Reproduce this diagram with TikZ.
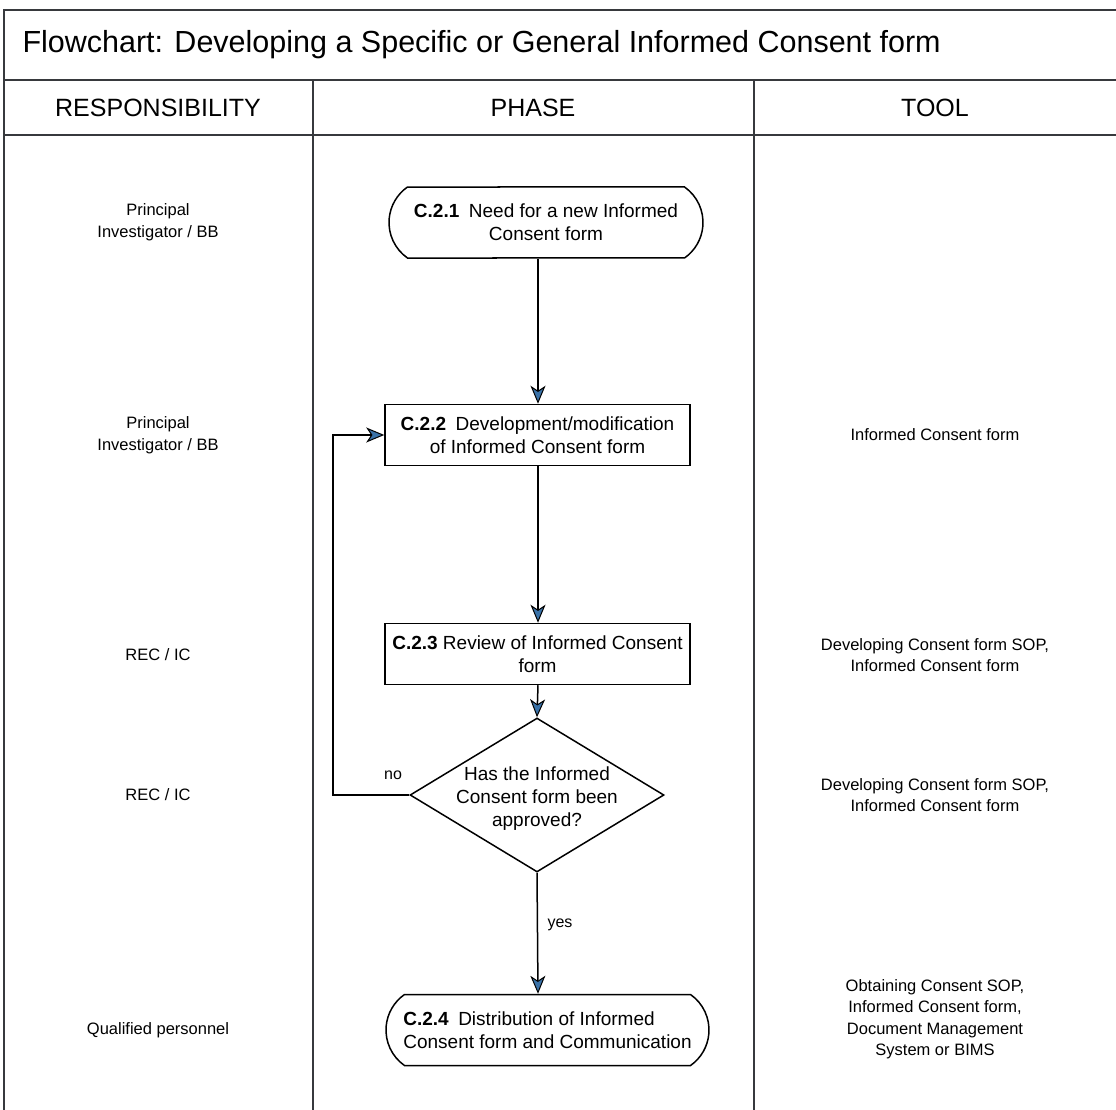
\documentclass[tikz,border=0pt]{standalone}
\usepackage{fontspec}
\setmainfont{Liberation Sans}
\usetikzlibrary{shapes.geometric,shapes.misc,arrows.meta}
\definecolor{tipblue}{RGB}{58,114,168}
\definecolor{framegray}{RGB}{55,57,61}
\begin{document}
\begin{tikzpicture}[x=1pt,y=-1pt,
  frameline/.style={draw=framegray,line width=2pt},
  nodefont/.style={font=\fontsize{19}{23}\selectfont},
  colfont/.style={font=\fontsize{16.5}{21.5}\selectfont},
  coltext/.style={colfont,align=center},
  headtext/.style={font=\fontsize{25}{29}\selectfont},
  titletext/.style={font=\fontsize{30.5}{34}\selectfont,anchor=west},
  process/.style={draw,line width=1.5pt,rectangle,minimum width=305,minimum height=61,nodefont,align=center,inner sep=3pt},
  terminal/.style={draw,line width=1.5pt,rounded rectangle,rounded rectangle arc length=110,minimum height=71,nodefont,inner sep=3pt},
  decision/.style={draw,line width=1.5pt,diamond,minimum width=254,minimum height=154,inner sep=0pt},
  flow/.style={line width=1.5pt,-{Stealth[length=18pt,width=15pt,inset=5pt,fill=tipblue,line width=1pt]}},
  edgelabel/.style={font=\fontsize{16}{19}\selectfont}
]
\useasboundingbox (0,0) rectangle (1116,1110);
\clip (0,0) rectangle (1116,1110);
% frame and table
\draw[frameline] (4,1112) -- (4,10) -- (1118,10);
\draw[frameline] (4,80) -- (1118,80);
\draw[frameline] (4,135) -- (1118,135);
\draw[frameline] (313,80) -- (313,1112);
\draw[frameline] (754,80) -- (754,1112);
% title and headers
\node[titletext] (title) at (19,45) {Flowchart: Developing a Specific or General Informed Consent form};
\node[headtext] (hresp) at (158,108) {RESPONSIBILITY};
\node[headtext] (hphase) at (533,108) {PHASE};
\node[headtext] (htool) at (935,108) {TOOL};
% phase column
\node[terminal,align=center,minimum width=320] (c1) at (546,222.5) {\textbf{C.2.1}\enspace Need for a new Informed\\Consent form};
\node[process] (c2) at (537.5,435) {\textbf{C.2.2}\enspace Development/modification\\of Informed Consent form};
\node[process] (c3) at (537.5,654) {\textbf{C.2.3} Review of Informed Consent\\form};
\node[decision] (q) at (537,795) {};
\node[nodefont,align=center,yshift=-4pt] (qtext) at (q) {Has the Informed\\Consent form been\\approved?};
\node[terminal,align=left,minimum width=329] (c4) at (547.5,1030) {\textbf{C.2.4}\enspace Distribution of Informed\\Consent form and Communication};
% connectors
\coordinate (ax) at (538,0);
\coordinate (loopx) at (333,0);
\draw[flow] (c1.south -| ax) -- (c2.north -| ax);
\draw[flow] (c2.south -| ax) -- (c3.north -| ax);
\draw[flow] (c3.south -| ax) -- (q.north);
\draw[flow] (q.south) -- (c4.north -| ax);
\draw[flow] (q.west) -- (q.west -| loopx) -- (c2.west -| loopx) -- (c2.west);
\node[edgelabel] (nolab) at (393,775) {no};
\node[edgelabel] (yeslab) at (560,925) {yes};
% responsibility column
\node[coltext] (r1) at (158,222) {Principal\\Investigator / BB};
\node[coltext] (r2) at (158,435) {Principal\\Investigator / BB};
\node[coltext] (r3) at (158,655) {REC / IC};
\node[coltext] (r4) at (158,795) {REC / IC};
\node[coltext] (r5) at (158,1030) {Qualified personnel};
% tool column
\node[coltext] (t2) at (935,435) {Informed Consent form};
\node[coltext] (t3) at (935,655) {Developing Consent form SOP,\\Informed Consent form};
\node[coltext] (t4) at (935,795) {Developing Consent form SOP,\\Informed Consent form};
\node[coltext] (t5) at (935,1019) {Obtaining Consent SOP,\\Informed Consent form,\\Document Management\\System or BIMS};
\end{tikzpicture}
\end{document}
